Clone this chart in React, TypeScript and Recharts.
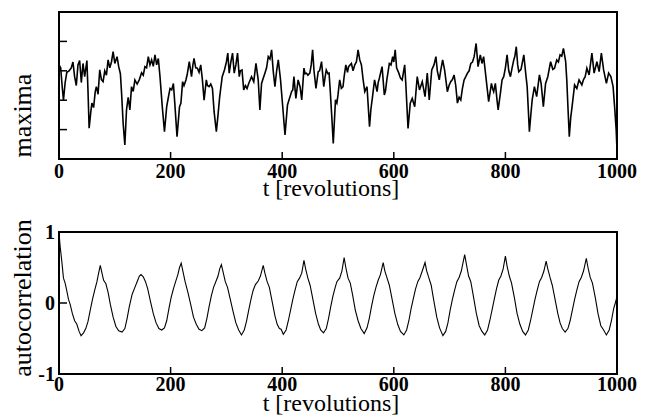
import { LineChart, Line, XAxis, YAxis, ReferenceArea } from "recharts";

const FONT = '"Liberation Serif", "Times New Roman", serif';

const tTicks = [0, 200, 400, 600, 800, 1000];
const maximaTicks = [1, 2, 3, 4];
const acfTicks = [-1, 0, 1];

// maxima time series (arbitrary units)
const maximaT = [
  0, 3, 6, 8, 11, 14, 18, 22, 25, 28, 31, 34, 37, 40, 43, 46, 50, 52, 54, 57,
  59, 62, 65, 67, 70, 73, 76, 79, 82, 85, 88, 91, 94, 97, 100, 104, 107, 110, 112, 115,
  118, 121, 124, 127, 130, 133, 136, 140, 144, 148, 151, 154, 157, 160, 163, 166, 169, 172, 175, 178,
  181, 185, 189, 193, 196, 199, 202, 205, 207.5, 211.5, 216, 218.5, 221.5, 224, 227.5, 230, 233.5, 237.5, 240, 242,
  245, 248, 251, 254, 257, 260, 264, 266, 269, 272, 275, 278, 282, 285, 288, 292.5, 296.5, 300, 302.5, 305,
  308, 311, 314, 317, 320, 323, 325, 328, 331, 334, 337, 340, 345, 349, 353, 357, 360, 363, 366, 369,
  372, 375, 378, 381, 384, 387, 390, 393, 397, 400, 405, 409.5, 412, 414, 417, 419, 421, 424.5, 428.5, 432,
  435, 439, 441, 443.5, 446, 449.5, 452, 454.5, 457, 460.5, 464.5, 467, 470.5, 474.5, 477, 479, 482, 484, 486, 489,
  491.5, 495.5, 498, 500, 503, 506, 509, 511, 514, 517, 519, 524, 527, 530, 533, 536, 539, 542, 545, 548,
  552, 556.5, 559, 561.5, 565.5, 570, 572, 574, 579, 583, 585, 587.5, 590, 592, 595, 598, 600, 602.5, 605, 609,
  612, 615, 619.5, 621.5, 623.5, 625.5, 629.5, 633, 637.5, 642, 646, 651, 656, 660, 663.5, 668, 672, 675.5, 678, 681.5,
  684, 687.5, 691, 696, 699, 702, 705, 708, 711, 714, 717, 720, 723, 726, 729, 732, 735, 738, 741, 744,
  747.5, 751, 755, 758, 761, 765, 770, 775, 777, 779, 782, 785, 787, 791, 794, 797, 800, 803, 806, 809,
  812, 815, 817, 819.5, 822, 824, 828, 833, 837, 839, 841, 843, 846, 848, 852, 856, 861, 864, 868, 872,
  876, 881, 885, 888, 892, 895, 898, 901, 904, 908, 910, 912, 914.5, 917, 919.5, 924, 928, 932, 937, 940,
  943, 946, 950, 955, 959, 964, 968, 972, 976, 981, 985, 989, 993, 996, 998.5, 1000,
];
const maximaV = [
  3.2, 3.1, 2.4, 2.0, 2.6, 2.95, 3.0, 3.1, 3.3, 2.8, 2.5, 3.2, 3.35, 2.6, 3.25, 2.8, 3.35, 2.3, 1.05, 1.6,
  1.9, 1.75, 2.3, 2.46, 2.2, 3.03, 2.7, 2.63, 3.0, 2.85, 3.37, 3.1, 3.3, 3.65, 3.25, 3.48, 3.14, 2.9, 2.29, 1.2,
  0.48, 1.67, 2.1, 1.67, 2.46, 2.3, 2.69, 2.55, 2.7, 2.93, 2.85, 3.14, 3.1, 3.48, 3.2, 3.37, 3.15, 3.54, 3.2, 3.42,
  2.8, 1.8, 0.93, 1.78, 2.1, 2.4, 2.35, 2.57, 1.9, 0.76, 1.78, 1.9, 2.63, 2.5, 2.69, 2.9, 3.31, 2.8, 3.2, 3.42,
  3.1, 3.09, 2.95, 3.2, 2.69, 2.0, 2.69, 2.5, 2.46, 2.55, 2.4, 1.6, 0.93, 1.5, 2.12, 2.8, 3.03, 3.3, 3.6, 2.92,
  3.3, 3.6, 2.92, 3.2, 3.6, 2.8, 3.0, 3.03, 2.35, 2.5, 2.4, 2.57, 2.8, 2.63, 3.25, 2.69, 1.67, 2.57, 2.75, 2.92,
  3.1, 3.48, 3.4, 3.71, 2.97, 2.46, 3.0, 3.37, 2.69, 2.0, 0.82, 1.84, 2.0, 2.12, 2.3, 2.35, 2.8, 2.06, 2.69, 2.46,
  2.01, 3.09, 2.9, 2.92, 2.85, 2.92, 3.2, 3.71, 3.0, 2.4, 2.97, 3.0, 3.31, 2.46, 2.8, 3.03, 2.9, 2.92, 2.35, 1.4,
  0.53, 2.01, 1.9, 2.18, 2.69, 2.4, 2.46, 2.8, 3.2, 2.95, 3.14, 3.25, 3.0, 3.2, 3.3, 3.71, 3.37, 3.2, 2.7, 2.29,
  2.46, 1.1, 1.7, 2.06, 2.69, 2.29, 2.6, 2.74, 3.14, 2.18, 2.3, 2.69, 3.0, 3.25, 3.2, 3.48, 3.3, 3.71, 3.1, 2.92,
  2.75, 2.69, 3.2, 2.57, 1.8, 1.04, 1.9, 2.06, 1.78, 2.8, 2.35, 2.63, 2.12, 2.92, 2.01, 3.03, 3.2, 3.48, 3.0, 2.69,
  3.0, 3.37, 3.03, 2.29, 2.5, 2.63, 2.7, 2.86, 2.5, 1.9, 2.1, 2.01, 2.4, 2.69, 2.8, 2.92, 3.0, 3.25, 3.3, 3.48,
  3.93, 3.14, 3.54, 3.25, 3.48, 2.8, 1.95, 2.57, 2.4, 2.29, 2.57, 2.0, 1.67, 2.23, 2.69, 2.8, 3.1, 3.54, 3.0, 2.8,
  3.1, 3.37, 3.5, 3.82, 3.2, 2.97, 3.05, 3.54, 2.8, 2.46, 1.7, 0.93, 1.6, 2.01, 2.46, 2.12, 2.86, 2.57, 1.78, 2.57,
  2.8, 3.31, 3.05, 3.09, 3.37, 3.3, 3.54, 3.5, 3.76, 3.31, 2.69, 1.8, 0.76, 1.4, 1.78, 2.52, 2.4, 2.69, 2.52, 2.7,
  2.8, 3.09, 2.86, 3.6, 2.92, 3.31, 2.97, 3.6, 3.03, 2.57, 2.92, 2.8, 2.46, 1.7, 1.0, 0.3,
];

// autocorrelation of the series above
const acfT = [
  0, 2, 5, 8, 11, 14, 17, 20, 24, 28, 32, 36, 39.5, 44, 48, 52, 56, 60, 64, 68,
  71, 74, 77, 80, 84, 88, 92, 97, 102, 107, 113, 118, 122, 126, 131, 136, 140, 144, 147, 151,
  155, 159, 164, 169, 174, 179, 184, 189, 193, 197, 201, 205, 209, 213, 216, 219, 222, 226, 231, 236,
  241, 246, 251, 256, 261, 265, 269, 273, 277, 281, 285, 288, 291, 294, 298, 302, 307, 312, 317, 322,
  327, 332, 336, 340, 344, 348, 352, 357, 361, 366, 369, 373, 377, 382, 387, 391, 395, 398, 402, 407,
  411, 415, 419, 423, 427, 431, 435, 439, 442, 446, 450, 455, 460, 465, 469, 474, 479, 483, 487, 491,
  495, 498, 503, 507, 511, 514, 518, 522, 526, 531, 536, 541, 547, 552, 556, 560, 564, 568, 572, 576,
  581, 584, 588, 592, 597, 602, 607, 612, 618, 623, 627, 631, 635, 639, 643, 647, 651, 656, 659, 663,
  667, 672, 677, 682, 688, 693, 697, 701, 705, 709, 713, 717, 721, 727, 730, 734, 738, 743, 748, 753,
  758, 763, 768, 772, 776, 780, 784, 788, 792, 796, 800, 803, 807, 811, 816, 821, 826, 831, 836, 841,
  845, 849, 853, 857, 861, 865, 869, 873, 876, 880, 884, 889, 894, 898, 902, 907, 912, 916, 920, 924,
  928, 932, 936, 940, 945, 948, 952, 956, 961, 966, 971, 976, 981, 986, 990, 994, 997, 1000,
];
const acfV = [
  1.0, 0.8, 0.59, 0.35, 0.28, 0.17, 0.05, -0.02, -0.15, -0.25, -0.3, -0.4, -0.46, -0.42, -0.36, -0.26, -0.1, 0.05, 0.18, 0.3,
  0.42, 0.53, 0.42, 0.32, 0.27, 0.15, -0.02, -0.2, -0.33, -0.39, -0.41, -0.36, -0.22, -0.05, 0.12, 0.22, 0.3, 0.38, 0.4, 0.37,
  0.3, 0.2, 0.02, -0.15, -0.28, -0.36, -0.38, -0.35, -0.25, -0.08, 0.08, 0.2, 0.3, 0.4, 0.5, 0.56, 0.45, 0.3, 0.15, -0.02,
  -0.2, -0.3, -0.37, -0.39, -0.35, -0.22, -0.05, 0.1, 0.22, 0.3, 0.38, 0.48, 0.54, 0.44, 0.3, 0.22, 0.05, -0.12, -0.28, -0.38,
  -0.45, -0.38, -0.26, -0.1, 0.05, 0.18, 0.26, 0.31, 0.38, 0.53, 0.42, 0.3, 0.22, 0.02, -0.18, -0.3, -0.36, -0.37, -0.44, -0.38,
  -0.25, -0.1, 0.05, 0.18, 0.3, 0.35, 0.42, 0.6, 0.48, 0.35, 0.25, 0.05, -0.15, -0.3, -0.38, -0.42, -0.36, -0.22, -0.05, 0.1,
  0.22, 0.3, 0.35, 0.45, 0.64, 0.5, 0.35, 0.28, 0.12, -0.1, -0.25, -0.36, -0.43, -0.35, -0.22, -0.05, 0.1, 0.22, 0.32, 0.4,
  0.57, 0.45, 0.35, 0.25, 0.05, -0.15, -0.3, -0.4, -0.45, -0.38, -0.25, -0.08, 0.06, 0.2, 0.3, 0.36, 0.45, 0.57, 0.45, 0.35,
  0.25, 0.02, -0.2, -0.35, -0.46, -0.4, -0.28, -0.1, 0.05, 0.18, 0.3, 0.36, 0.45, 0.68, 0.55, 0.38, 0.3, 0.08, -0.15, -0.32,
  -0.4, -0.45, -0.38, -0.25, -0.1, 0.05, 0.2, 0.32, 0.38, 0.48, 0.66, 0.52, 0.38, 0.28, 0.08, -0.15, -0.3, -0.4, -0.45, -0.38,
  -0.25, -0.1, 0.05, 0.18, 0.3, 0.36, 0.45, 0.59, 0.48, 0.36, 0.25, 0.05, -0.15, -0.28, -0.36, -0.41, -0.36, -0.25, -0.1, 0.05,
  0.18, 0.3, 0.36, 0.45, 0.63, 0.5, 0.36, 0.28, 0.08, -0.15, -0.32, -0.38, -0.45, -0.38, -0.25, -0.08, 0.0, 0.09,
];

const maximaData = maximaT.map((t, i) => ({ t, v: maximaV[i] }));
const acfData = acfT.map((t, i) => ({ t, v: acfV[i] }));

// inward tick marks + bold labels, like the old plotting package did
function XTick(props: any) {
  const { x, y, payload, labelDy } = props;
  const edge = payload.value === 0 || payload.value === 1000;
  return (
    <g>
      {!edge && <line x1={x} y1={y} x2={x} y2={y - 7} stroke="#000" strokeWidth={1.5} />}
      <text x={x} y={y + labelDy} textAnchor="middle" fontFamily={FONT} fontWeight="bold" fontSize={20} fill="#000">
        {payload.value}
      </text>
    </g>
  );
}

function YTick(props: any) {
  const { x, y, payload, showLabel, edges } = props;
  const isEdge = edges && edges.includes(payload.value);
  return (
    <g>
      {!isEdge && <line x1={x} y1={y} x2={x + 8} y2={y} stroke="#000" strokeWidth={1.5} />}
      {showLabel && (
        <text x={x - 4} y={y + 7} textAnchor="end" fontFamily={FONT} fontWeight="bold" fontSize={20} fill="#000">
          {payload.value}
        </text>
      )}
    </g>
  );
}

const xTitle = (dy: number) => (props: any) => {
  const vb = props.viewBox;
  return (
    <text x={vb.x + vb.width / 2 - 7} y={vb.y + dy} textAnchor="middle" fontFamily={FONT} fontSize={24} fill="#000">
      t [revolutions]
    </text>
  );
};

const yTitle = (text: string, shift: number) => (props: any) => {
  const vb = props.viewBox;
  const cx = 31;
  const cy = vb.y + vb.height / 2 + shift;
  return (
    <text x={cx} y={cy} transform={`rotate(-90, ${cx}, ${cy})`} textAnchor="middle" fontFamily={FONT} fontSize={26} fill="#000">
      {text}
    </text>
  );
};

export default function App() {
  return (
    <div style={{ position: "absolute", left: 0, top: 0, width: 650, height: 415, background: "#fff" }}>
      <div style={{ position: "absolute", left: 0, top: 0 }}>
        <LineChart width={650} height={200} data={maximaData} margin={{ top: 12, right: 33, bottom: 0, left: 0 }}>
          <XAxis
            dataKey="t"
            type="number"
            domain={[0, 1000]}
            ticks={tTicks}
            interval={0}
            height={41}
            axisLine={false}
            tickLine={false}
            tickSize={0}
            tickMargin={0}
            tick={(p: any) => <XTick {...p} labelDy={19} />}
            label={xTitle(37)}
          />
          <YAxis
            type="number"
            domain={[0, 5]}
            ticks={maximaTicks}
            interval={0}
            width={59}
            axisLine={false}
            tickLine={false}
            tickSize={0}
            tickMargin={0}
            tick={(p: any) => <YTick {...p} showLabel={false} />}
            label={yTitle("maxima", 30)}
          />
          <ReferenceArea x1={0} x2={1000} y1={0} y2={5} fill="none" stroke="#000" strokeWidth={2} ifOverflow="visible" />
          <Line type="linear" dataKey="v" stroke="#000" strokeWidth={1.6} dot={false} isAnimationActive={false} />
        </LineChart>
      </div>
      <div style={{ position: "absolute", left: 0, top: 200 }}>
        <LineChart width={650} height={215} data={acfData} margin={{ top: 32, right: 33, bottom: 0, left: 0 }}>
          <XAxis
            dataKey="t"
            type="number"
            domain={[0, 1000]}
            ticks={tTicks}
            interval={0}
            height={41}
            axisLine={false}
            tickLine={false}
            tickSize={0}
            tickMargin={0}
            tick={(p: any) => <XTick {...p} labelDy={17} />}
            label={xTitle(37)}
          />
          <YAxis
            type="number"
            domain={[-1, 1]}
            ticks={acfTicks}
            interval={0}
            width={59}
            axisLine={false}
            tickLine={false}
            tickSize={0}
            tickMargin={0}
            tick={(p: any) => <YTick {...p} showLabel={true} edges={[-1, 1]} />}
            label={yTitle("autocorrelation", -5)}
          />
          <ReferenceArea x1={0} x2={1000} y1={-1} y2={1} fill="none" stroke="#000" strokeWidth={2} ifOverflow="visible" />
          <Line type="linear" dataKey="v" stroke="#000" strokeWidth={1.1} dot={false} isAnimationActive={false} />
        </LineChart>
      </div>
    </div>
  );
}
